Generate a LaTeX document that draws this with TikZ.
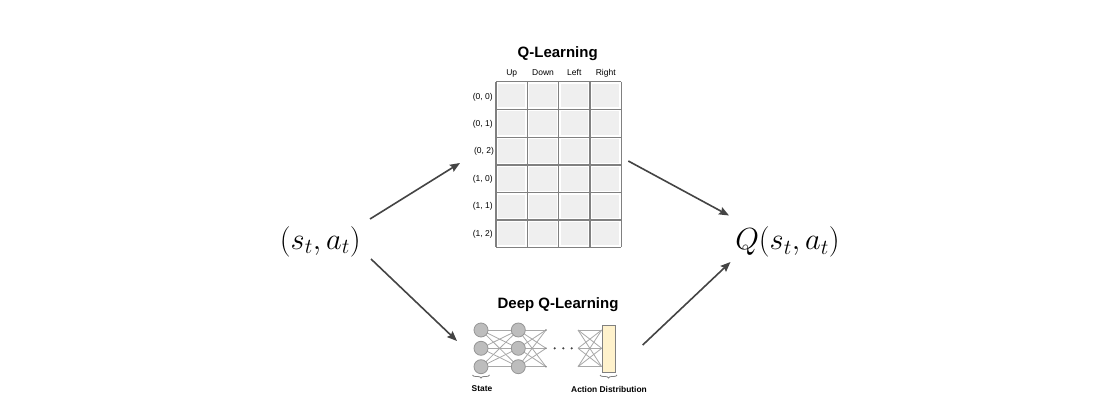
\RequirePackage{fix-cm}
\documentclass[tikz,border=0pt]{standalone}
\usepackage{fontspec}
\setsansfont{Liberation Sans}
\usetikzlibrary{arrows.meta,decorations.pathreplacing}
\definecolor{arrowgray}{HTML}{444444}
\definecolor{gridgray}{HTML}{808080}
\definecolor{cellfill}{HTML}{EFEFEF}
\definecolor{neurfill}{HTML}{BDBDBD}
\definecolor{neurdraw}{HTML}{969696}
\definecolor{linkgray}{HTML}{A8A8A8}
\definecolor{outfill}{HTML}{FFF2CC}
\begin{document}
\begin{tikzpicture}[x=1pt,y=-1pt,
  flow/.style={draw=arrowgray,line width=1.6pt,-{Stealth[length=10pt,width=8pt,inset=1.5pt]}},
  title/.style={font=\sffamily\bfseries\fontsize{15}{17}\selectfont,inner sep=0pt},
  small/.style={font=\sffamily\fontsize{8.5}{9}\selectfont,inner sep=0pt,text height=6.3pt,text depth=1.8pt},
  smallb/.style={font=\sffamily\bfseries\fontsize{8.4}{9}\selectfont,inner sep=0pt},
  mathlbl/.style={font=\fontsize{30.5}{33}\selectfont,inner sep=0pt},
  neuron/.style={circle,draw=neurdraw,fill=neurfill,line width=0.8pt,minimum size=14pt,inner sep=0pt},
  link/.style={draw=linkgray,line width=0.8pt},
  bracestyle/.style={draw=gridgray,line width=0.8pt,decorate,decoration={brace,amplitude=3pt}}
]
\useasboundingbox (0,0) rectangle (1120,412);
\fill[white] (0,0) rectangle (1120,412);

% math labels
\node[mathlbl] (sa) at (320.3,241.7) {$(s_t,a_t)$};
\node[mathlbl] (Q) at (787.5,242.3) {$Q(s_t,a_t)$};

% Q-table
\node[title] (qt) at (557.7,54) {Q-Learning};
\def\xs{{496,527.3,558.7,590,621.3}}
\def\ys{{81.7,109.3,137.3,165,192.7,220,247.3}}
\foreach \i in {0,...,3}{
  \foreach \j in {0,...,5}{
    \pgfmathsetmacro{\xa}{\xs[\i]+2}
    \pgfmathsetmacro{\xb}{\xs[\i+1]-2}
    \pgfmathsetmacro{\ya}{\ys[\j]+2}
    \pgfmathsetmacro{\yb}{\ys[\j+1]-2}
    \fill[cellfill] (\xa,\ya) rectangle (\xb,\yb);
  }
}
\foreach \i in {0,...,4}{
  \pgfmathsetmacro{\xx}{\xs[\i]}
  \draw[gridgray,line width=1.3pt] (\xx,81.7) -- (\xx,247.3);
}
\foreach \j in {0,...,6}{
  \pgfmathsetmacro{\yy}{\ys[\j]}
  \draw[gridgray,line width=1.3pt] (496,\yy) -- (621.3,\yy);
}
\node[small] (hU) at (511.7,73) {Up};
\node[small] (hD) at (543,73) {Down};
\node[small] (hL) at (574.3,73) {Left};
\node[small] (hR) at (605.7,73) {Right};
\node[small] (r0) at (482.7,97) {(0, 0)};
\node[small] (r1) at (482.7,124) {(0, 1)};
\node[small] (r2) at (484,151) {(0, 2)};
\node[small] (r3) at (482.7,179) {(1, 0)};
\node[small] (r4) at (482.7,206) {(1, 1)};
\node[small] (r5) at (482.7,234) {(1, 2)};

% Deep Q network
\node[title] (dq) at (558,305) {Deep Q-Learning};
\foreach \k/\y in {1/330,2/348.3,3/366.7}{
  \coordinate (a\k) at (481,\y);
  \coordinate (b\k) at (518.3,\y);
  \coordinate (e\k) at (546,\y);
  \coordinate (s\k) at (578,\y);
  \coordinate (o\k) at (601.7,\y);
}
\foreach \k in {1,2,3}{
  \foreach \m in {1,2,3}{
    \draw[link] (a\k) -- (b\m);
    \draw[link] (b\k) -- (e\m);
    \draw[link] (s\k) -- (o\m);
  }
}
\foreach \k in {1,2,3}{
  \node[neuron] (n1\k) at (a\k) {};
  \node[neuron] (n2\k) at (b\k) {};
  \fill[gridgray] (e\k) circle (0.9pt);
}
\foreach \x [count=\c] in {554.7,563.3,571.7}{
  \fill[arrowgray] (\x,348.3) circle (1.2pt) coordinate (d\c);
}
\node[draw=gridgray,fill=outfill,line width=1pt,minimum width=13.3pt,minimum height=47.3pt,inner sep=0pt,anchor=north west] (out) at (601.7,325) {};
\draw[bracestyle] (489.5,375) -- (472.5,375);
\draw[bracestyle] (617,375) -- (600,375);
\node[smallb] (state) at (482,389) {State};
\node[smallb] (act) at (609,389) {Action Distribution};

% arrows
\coordinate (p1) at (370,219);
\coordinate (p2) at (460,163);
\coordinate (p3) at (371,259);
\coordinate (p4) at (457,341);
\coordinate (p5) at (628.3,161);
\coordinate (p6) at (729,215.5);
\coordinate (p7) at (642.7,345);
\coordinate (p8) at (730.5,262);
\draw[flow] (p1) -- (p2);
\draw[flow] (p3) -- (p4);
\draw[flow] (p5) -- (p6);
\draw[flow] (p7) -- (p8);
\end{tikzpicture}
\end{document}
